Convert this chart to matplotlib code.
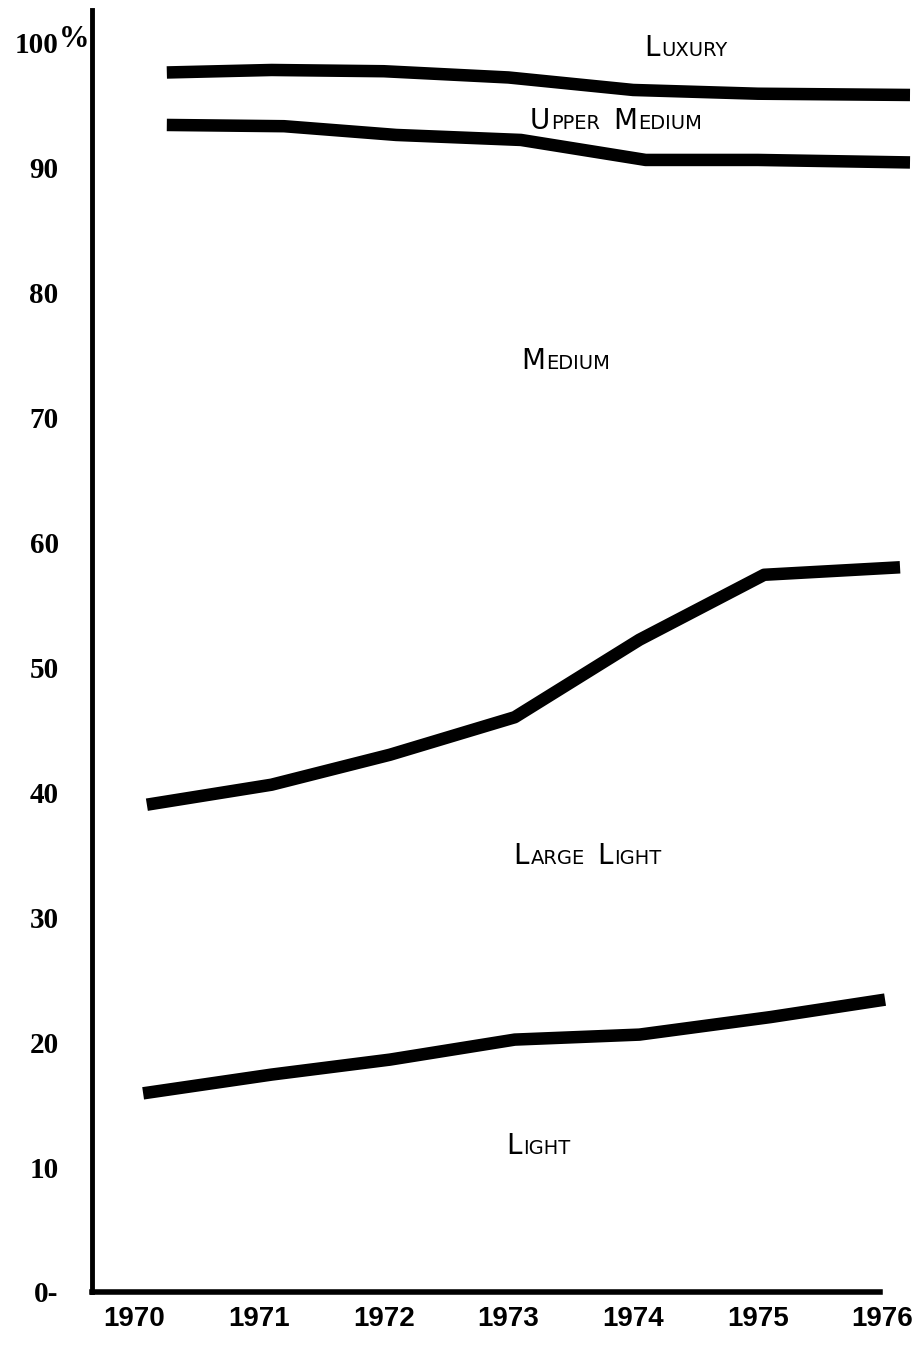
import matplotlib
matplotlib.use("Agg")
import matplotlib.pyplot as plt
from matplotlib.offsetbox import TextArea, HPacker, AnnotationBbox

# boundaries between car segments (cumulative share, %)
years_top = [1970.26, 1971.1, 1972.0, 1973.0, 1974.0, 1975.0, 1976.22]
luxury_line = [97.6, 97.8, 97.7, 97.2, 96.2, 95.9, 95.8]

years_upper = [1970.26, 1971.2, 1972.1, 1973.1, 1974.1, 1975.0, 1976.22]
upper_medium_line = [93.4, 93.3, 92.6, 92.2, 90.6, 90.6, 90.4]

years_medium = [1970.1, 1971.1, 1972.05, 1973.05, 1974.05, 1975.05, 1976.14]
medium_line = [39.0, 40.6, 43.0, 46.0, 52.2, 57.4, 58.0]

years_large = [1970.07, 1971.1, 1972.05, 1973.05, 1974.05, 1975.1, 1976.02]
large_light_line = [15.9, 17.4, 18.6, 20.2, 20.6, 22.0, 23.4]

year_ticks = [1970, 1971, 1972, 1973, 1974, 1975, 1976]
y_ticks = [0, 10, 20, 30, 40, 50, 60, 70, 80, 90, 100]
y_labels = ['0-', '10', '20', '30', '40', '50', '60', '70', '80', '90', '100']

# segment names, drawn in small caps
segments = [
    ("Luxury", 1974.09, 98.4),
    ("Upper Medium", 1973.17, 92.6),
    ("Medium", 1973.10, 73.4),
    ("Large Light", 1973.04, 33.8),
    ("Light", 1972.98, 10.6),
]

fig = plt.figure(figsize=(9.15, 13.48), dpi=100)
ax = fig.add_axes([92 / 915, 56 / 1348, 823 / 915, 1282 / 1348])

for xs, ys in [(years_top, luxury_line), (years_upper, upper_medium_line),
               (years_medium, medium_line), (years_large, large_light_line)]:
    ax.plot(xs, ys, color='black', lw=9, solid_capstyle='butt', solid_joinstyle='round')

ax.set_xlim(1969.66, 1976.26)
ax.set_ylim(0, 102.6)

for s in ['top', 'right']:
    ax.spines[s].set_visible(False)
ax.spines['left'].set_linewidth(3.5)
ax.spines['bottom'].set_linewidth(4)
ax.spines['bottom'].set_bounds(1969.66, 1975.98)

ax.set_yticks(y_ticks)
ax.set_yticklabels(y_labels, family=['Liberation Serif', 'DejaVu Serif'], fontsize=21, fontweight='bold')
ax.set_xticks(year_ticks)
ax.set_xticklabels([str(y) for y in year_ticks], family=['Liberation Sans', 'DejaVu Sans'],
                   fontsize=20, fontweight='bold')
ax.tick_params(axis='y', length=0, pad=24)
ax.tick_params(axis='x', length=0, pad=10)

ax.text(-0.003, 100.2, '%', transform=ax.get_yaxis_transform(), ha='right', va='center',
        family=['Liberation Serif', 'DejaVu Serif'], fontsize=22, fontweight='bold')


def small_caps(word):
    parts = []
    for w in word.split():
        first = TextArea(w[0].upper(), textprops=dict(size=20, family='DejaVu Sans'))
        rest = TextArea(w[1:].upper(), textprops=dict(size=14, family='DejaVu Sans'))
        parts.append(HPacker(children=[first, rest], align='baseline', pad=0, sep=1))
    return HPacker(children=parts, align='baseline', pad=0, sep=9)


for name, x, y in segments:
    ab = AnnotationBbox(small_caps(name), (x, y), xycoords='data', box_alignment=(0, 0),
                        frameon=False, pad=0)
    ax.add_artist(ab)

fig.savefig('out.png', dpi=100)
